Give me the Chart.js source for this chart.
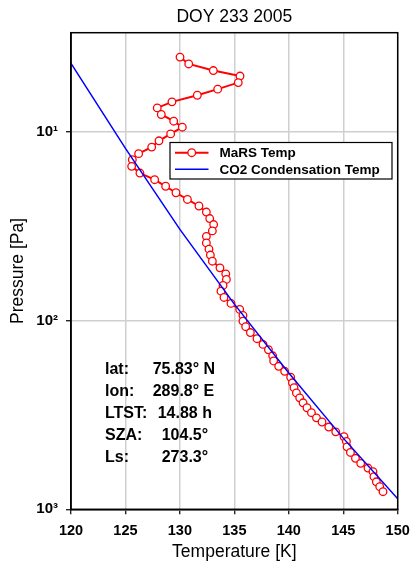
<!DOCTYPE html>
<html>
<head>
<meta charset="utf-8">
<script src="https://cdn.jsdelivr.net/npm/chart.js@4.4.1/dist/chart.umd.min.js"></script>
<style>
  html, body { margin: 0; padding: 0; background: #fff; }
  canvas { display: block; }
</style>
</head>
<body>
<canvas id="perfil" width="410" height="562"></canvas>
<script>
// ===== dados =====
const tituloGrafico = "DOY 233 2005";

// perfil MaRS (temperatura K, pressão Pa), do topo para baixo
const marsTemp = [
  130.01, 130.81, 133.07, 135.52, 135.36, 133.47, 131.60, 129.27, 127.92, 128.29,
  129.43, 130.22, 129.15, 128.08, 127.41, 126.21, 125.63, 125.57, 126.33, 127.68,
  128.69, 129.64, 130.69, 131.75, 132.43, 132.74, 133.10, 132.98, 132.43, 132.43,
  132.67, 132.80, 132.98, 133.68, 134.21, 134.27, 133.96, 133.77, 134.05, 134.69,
  135.49, 135.79, 135.79, 136.04, 136.47, 137.08, 137.63, 138.13, 138.52, 138.61,
  139.07, 139.62, 140.17, 140.33, 140.48, 140.70, 141.00, 141.31, 141.67, 142.08,
  142.54, 143.05, 143.67, 144.31, 145.07, 145.29, 145.35, 145.66, 146.12, 146.60,
  147.27, 147.73, 147.82, 148.04, 148.35, 148.65
];
const marsPres = [
  4.04, 4.39, 4.76, 5.09, 5.51, 5.97, 6.43, 6.97, 7.50, 8.13,
  8.82, 9.49, 10.3, 11.2, 12.1, 13.1, 14.1, 15.3, 16.6, 18.0,
  19.5, 21.1, 22.9, 24.8, 26.7, 28.9, 31.1, 33.6, 35.9, 38.9,
  42.0, 45.1, 48.6, 52.7, 56.7, 60.7, 65.3, 70.0, 75.6, 81.3,
  87.5, 94.1, 101, 108, 116, 125, 134, 143, 154, 164,
  175, 186, 200, 214, 227, 242, 257, 273, 290, 308,
  328, 345, 367, 389, 413, 437, 467, 500, 537, 571,
  605, 632, 672, 715, 759, 807
];

// curva de condensação do CO2
const co2Temp = [120, 125, 130, 135, 140, 145, 150];
const co2Pres = [4.36, 12.3, 33, 82, 190, 420, 880];

// eixos
const tempTicks = [120, 125, 130, 135, 140, 145, 150];
const presTicks = [10, 100, 1000];
const presTickLabels = ["10\u00B9", "10\u00B2", "10\u00B3"];

// caixa de informações
const infoRotulos = ["lat:", "lon:", "LTST:", "SZA:", "Ls:"];
const infoValores = ["75.83\u00B0 N", "289.8\u00B0 E", "14.88 h", "104.5\u00B0", "273.3\u00B0"];

// ===== configuração =====
Chart.defaults.font.family = "'Liberation Sans', Arial, sans-serif";
Chart.defaults.color = "#000";

const marsPontos = marsTemp.map((t, i) => ({ x: t, y: marsPres[i] }));
const co2Pontos = co2Temp.map((t, i) => ({ x: t, y: co2Pres[i] }));

// moldura, legenda e textos dentro do gráfico
const extras = {
  id: "extras",
  afterDraw(chart) {
    const ctx = chart.ctx;
    const a = chart.chartArea;
    ctx.save();

    ctx.strokeStyle = "#000";
    ctx.lineWidth = 1.5;
    ctx.strokeRect(a.left, a.top, a.right - a.left, a.bottom - a.top);

    // legenda
    const lx = 170, ly = 142.5, lw = 222, lh = 36.5;
    ctx.fillStyle = "#fff";
    ctx.fillRect(lx, ly, lw, lh);
    ctx.lineWidth = 1.2;
    ctx.strokeStyle = "#000";
    ctx.strokeRect(lx, ly, lw, lh);

    const linhas = [
      { txt: chart.data.datasets[0].label, cor: "#ff0000", marca: true, y: 152.7 },
      { txt: chart.data.datasets[1].label, cor: "#0000ff", marca: false, y: 169.3 }
    ];
    ctx.font = "bold 13.5px 'Liberation Sans', Arial, sans-serif";
    ctx.textBaseline = "middle";
    ctx.textAlign = "left";
    linhas.forEach(l => {
      ctx.strokeStyle = l.cor;
      ctx.lineWidth = l.marca ? 2 : 1.5;
      ctx.beginPath();
      ctx.moveTo(175, l.y);
      ctx.lineTo(208.5, l.y);
      ctx.stroke();
      if (l.marca) {
        ctx.beginPath();
        ctx.arc(191.7, l.y, 3.8, 0, Math.PI * 2);
        ctx.fillStyle = "#fff";
        ctx.fill();
        ctx.lineWidth = 1.3;
        ctx.stroke();
      }
      ctx.fillStyle = "#000";
      ctx.fillText(l.txt, 219.5, l.y + 0.5);
    });

    // informações da observação
    ctx.font = "bold 16px 'Liberation Sans', Arial, sans-serif";
    const valorX = [152.7, 152.7, 157.7, 161.7, 161.7];
    infoRotulos.forEach((r, i) => {
      const y = 370 + i * 21.9;
      ctx.fillText(r, 105, y);
      ctx.fillText(infoValores[i], valorX[i], y);
    });

    ctx.restore();
  }
};

new Chart(document.getElementById("perfil"), {
  type: "line",
  data: {
    datasets: [
      {
        label: "MaRS Temp",
        data: marsPontos,
        borderColor: "#ff0000",
        borderWidth: 2,
        pointRadius: 3.8,
        pointBorderWidth: 1.3,
        pointBorderColor: "#ff0000",
        pointBackgroundColor: "#ffffff",
        tension: 0,
        order: 2
      },
      {
        label: "CO2 Condensation Temp",
        data: co2Pontos,
        borderColor: "#0000ff",
        borderWidth: 1.5,
        pointRadius: 0,
        tension: 0,
        order: 1
      }
    ]
  },
  options: {
    responsive: false,
    animation: false,
    devicePixelRatio: 1,
    layout: { padding: { left: 0, right: 12.3, top: 0, bottom: 0 } },
    plugins: {
      legend: { display: false },
      tooltip: { enabled: false },
      title: {
        display: true,
        fullSize: false,
        text: tituloGrafico,
        color: "#000",
        font: { size: 17.5, weight: "normal", lineHeight: 1 },
        padding: { top: 8, bottom: 7.2 }
      }
    },
    scales: {
      x: {
        type: "linear",
        min: 120,
        max: 150,
        afterBuildTicks: s => { s.ticks = tempTicks.map(v => ({ value: v })); },
        ticks: {
          font: { size: 14.5, weight: "bold" },
          color: "#000",
          padding: 7.5,
          maxRotation: 0
        },
        grid: { color: "#cfcfcf", lineWidth: 1.5, tickColor: "#000", tickLength: 5, tickWidth: 1.2 },
        border: { color: "#000", width: 1.5 },
        title: {
          display: true,
          text: "Temperature [K]",
          color: "#000",
          font: { size: 17.5, lineHeight: 1 },
          padding: { top: 0, bottom: 1 }
        },
        afterFit: s => { s.height = 52.7; s.paddingLeft = 0; s.paddingRight = 0; }
      },
      y: {
        type: "logarithmic",
        reverse: true,
        min: 3,
        max: 1000,
        afterBuildTicks: s => { s.ticks = presTicks.map(v => ({ value: v })); },
        ticks: {
          font: { size: 15, weight: "bold" },
          color: "#000",
          padding: 8,
          callback: v => presTickLabels[presTicks.indexOf(v)] || ""
        },
        grid: { color: "#cfcfcf", lineWidth: 1.5, tickColor: "#000", tickLength: 5, tickWidth: 1.2 },
        border: { color: "#000", width: 1.5 },
        title: {
          display: true,
          text: "Pressure [Pa]",
          color: "#000",
          font: { size: 17.5, lineHeight: 1 },
          padding: { top: 9, bottom: 0 }
        },
        afterFit: s => { s.width = 71; s.paddingTop = 0; s.paddingBottom = 0; }
      }
    }
  },
  plugins: [extras]
});
</script>
</body>
</html>
